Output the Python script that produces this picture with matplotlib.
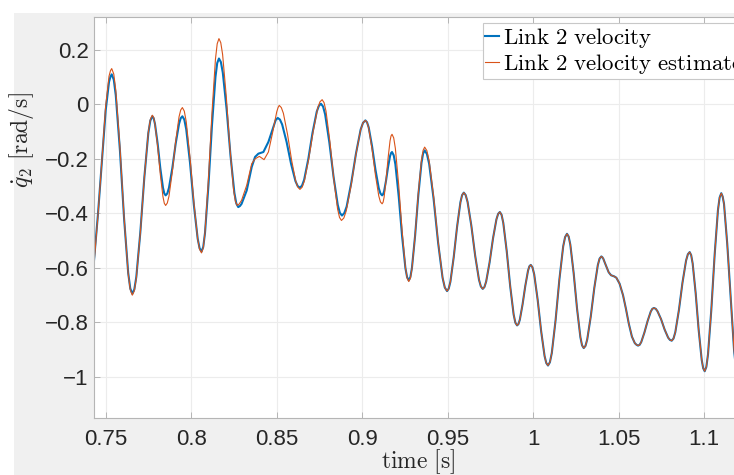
import numpy as np
import matplotlib
matplotlib.use('Agg')
import matplotlib.pyplot as plt
from matplotlib.patches import Rectangle

plt.rcParams['mathtext.fontset'] = 'cm'
plt.rcParams['font.family'] = ['Liberation Sans', 'DejaVu Sans']

# (time [s], value [rad/s])
# measured link-2 velocity, first part (where the estimate differs)
vel_head = [
    (0.74298, -0.573), (0.74532, -0.401), (0.74766, -0.206), (0.74982, -0.022), (0.75176, 0.082), (0.7526, 0.101), (0.75334, 0.110),
    (0.75455, 0.090), (0.75572, 0.033), (0.75814, -0.168), (0.76056, -0.417), (0.76298, -0.618), (0.76419, -0.675), (0.7654, -0.695),
    (0.76657, -0.679), (0.76774, -0.633), (0.77008, -0.470), (0.77242, -0.269), (0.77476, -0.106), (0.77593, -0.060), (0.7771, -0.044),
    (0.77788, -0.051), (0.77866, -0.072), (0.78022, -0.144), (0.78178, -0.234), (0.78334, -0.306), (0.78412, -0.327), (0.7849, -0.334),
    (0.78588, -0.327), (0.78686, -0.306), (0.78882, -0.234), (0.79078, -0.144), (0.79274, -0.072), (0.79372, -0.051), (0.7947, -0.044),
    (0.79582, -0.056), (0.79694, -0.091), (0.79918, -0.215), (0.80142, -0.369), (0.80366, -0.493), (0.80478, -0.528), (0.8059, -0.540),
    (0.80692, -0.523), (0.80794, -0.472), (0.80998, -0.295), (0.81202, -0.077), (0.81406, 0.100), (0.81508, 0.151), (0.8161, 0.168),
    (0.81723, 0.155), (0.81836, 0.116), (0.82062, -0.020), (0.82288, -0.189), (0.82514, -0.325), (0.82627, -0.364), (0.8274, -0.377),
    (0.8284, -0.373), (0.82935, -0.365), (0.83235, -0.316), (0.83528, -0.230), (0.83723, -0.193), (0.83918, -0.181), (0.84211, -0.175),
    (0.84504, -0.138), (0.84796, -0.083), (0.8493, -0.058), (0.8505, -0.050),
    (0.8518, -0.056), (0.8531, -0.074), (0.8557, -0.138), (0.8583, -0.218), (0.8609, -0.282), (0.8622, -0.300), (0.8635, -0.306),
    (0.86473, -0.298), (0.86596, -0.277), (0.86842, -0.200), (0.87088, -0.104), (0.87334, -0.027), (0.87457, -0.006), (0.8758, 0.002),
    (0.87703, -0.008), (0.87826, -0.037), (0.88072, -0.140), (0.88318, -0.266), (0.88564, -0.369), (0.88687, -0.398), (0.8881, -0.408),
    (0.88947, -0.399), (0.89084, -0.375), (0.89358, -0.287), (0.89632, -0.180), (0.89906, -0.092), (0.90043, -0.068), (0.9018, -0.059),
    (0.90278, -0.066), (0.90376, -0.085), (0.90572, -0.154), (0.90768, -0.239), (0.90964, -0.308), (0.91062, -0.327), (0.9116, -0.334),
    (0.91218, -0.330), (0.91276, -0.319), (0.91392, -0.279), (0.91508, -0.230), (0.91624, -0.190), (0.91682, -0.179), (0.9174, -0.175),
    (0.91838, -0.187), (0.91936, -0.220), (0.92132, -0.338), (0.92328, -0.483), (0.92524, -0.601), (0.92622, -0.634), (0.9272, -0.646),
    (0.92813, -0.634), (0.92906, -0.600), (0.93092, -0.481), (0.93278, -0.334), (0.93464, -0.215), (0.93557, -0.181), (0.9365, -0.169),
    (0.93781, -0.182), (0.93912, -0.218), (0.94174, -0.347), (0.94436, -0.507), (0.94698, -0.636), (0.94829, -0.672),
]

# velocity estimate, first part
est_head = [
    (0.74298, -0.585), (0.74532, -0.405), (0.74766, -0.200), (0.74982, -0.005), (0.75176, 0.103), (0.7526, 0.123), (0.75334, 0.131),
    (0.75455, 0.111), (0.75572, 0.052), (0.75814, -0.156), (0.76056, -0.413), (0.76298, -0.621), (0.76419, -0.680), (0.7654, -0.700),
    (0.76657, -0.684), (0.76774, -0.637), (0.77008, -0.472), (0.77242, -0.268), (0.77476, -0.103), (0.77593, -0.056), (0.7771, -0.040),
    (0.77788, -0.048), (0.77866, -0.072), (0.78022, -0.154), (0.78178, -0.257), (0.78334, -0.339), (0.78412, -0.363), (0.7849, -0.371),
    (0.78588, -0.362), (0.78686, -0.337), (0.78882, -0.247), (0.79078, -0.136), (0.79274, -0.046), (0.79372, -0.021), (0.7947, -0.012),
    (0.79582, -0.025), (0.79694, -0.063), (0.79918, -0.196), (0.80142, -0.361), (0.80366, -0.494), (0.80478, -0.532), (0.8059, -0.545),
    (0.80692, -0.526), (0.80794, -0.470), (0.80998, -0.273), (0.81202, -0.031), (0.81406, 0.166), (0.81508, 0.222), (0.8161, 0.241),
    (0.81717, 0.226), (0.81824, 0.183), (0.82038, 0.030), (0.82252, -0.160), (0.82466, -0.313), (0.82573, -0.356), (0.8268, -0.371),
    (0.8279, -0.366), (0.82935, -0.352), (0.83235, -0.297), (0.83528, -0.218), (0.83723, -0.200), (0.83977, -0.191), (0.8425, -0.203),
    (0.84504, -0.175), (0.84757, -0.102), (0.84991, -0.028), (0.8507, -0.012), (0.8514, -0.004),
    (0.85261, -0.012), (0.85382, -0.033), (0.85624, -0.110), (0.85866, -0.206), (0.86108, -0.283), (0.86229, -0.304), (0.8635, -0.312),
    (0.8648, -0.304), (0.8661, -0.281), (0.8687, -0.198), (0.8713, -0.097), (0.8739, -0.014), (0.8752, 0.009), (0.8765, 0.017),
    (0.87763, 0.006), (0.87876, -0.025), (0.88102, -0.136), (0.88328, -0.273), (0.88554, -0.384), (0.88667, -0.415), (0.8878, -0.426),
    (0.8892, -0.417), (0.8906, -0.391), (0.8934, -0.299), (0.8962, -0.186), (0.8990, -0.094), (0.9004, -0.068), (0.9018, -0.059),
    (0.90278, -0.066), (0.90376, -0.088), (0.90572, -0.165), (0.90768, -0.259), (0.90964, -0.336), (0.91062, -0.358), (0.9116, -0.365),
    (0.91218, -0.359), (0.91276, -0.341), (0.91392, -0.277), (0.91508, -0.198), (0.91624, -0.134), (0.91682, -0.116), (0.9174, -0.110),
    (0.91838, -0.123), (0.91936, -0.162), (0.92132, -0.297), (0.92328, -0.463), (0.92524, -0.598), (0.92622, -0.637), (0.9272, -0.650),
    (0.92813, -0.638), (0.92906, -0.603), (0.93092, -0.480), (0.93278, -0.327), (0.93464, -0.204), (0.93557, -0.169), (0.9365, -0.157),
    (0.93781, -0.170), (0.93912, -0.207), (0.94174, -0.339), (0.94436, -0.503), (0.94698, -0.635), (0.94829, -0.672),
]

# after ~0.95 s both curves coincide
tail = [
    (0.9496, -0.685),
    (0.95058, -0.676), (0.95156, -0.651), (0.95352, -0.560), (0.95548, -0.449), (0.95744, -0.359), (0.95842, -0.333), (0.9594, -0.324),
    (0.96051, -0.333), (0.96162, -0.358), (0.96384, -0.446), (0.96606, -0.555), (0.96828, -0.643), (0.96939, -0.668), (0.9705, -0.677),
    (0.9715, -0.670), (0.9725, -0.650), (0.9745, -0.580), (0.9765, -0.492), (0.9785, -0.422), (0.9795, -0.402), (0.9805, -0.395),
    (0.98151, -0.405), (0.98252, -0.435), (0.98454, -0.539), (0.98656, -0.667), (0.98858, -0.771), (0.98959, -0.801), (0.9906, -0.811),
    (0.9914, -0.806), (0.9922, -0.790), (0.9938, -0.734), (0.9954, -0.666), (0.9970, -0.610), (0.9978, -0.594), (0.9986, -0.589),
    (0.99961, -0.598), (1.00062, -0.624), (1.00264, -0.717), (1.00466, -0.831), (1.00668, -0.923), (1.00769, -0.949), (1.0087, -0.958),
    (1.00981, -0.946), (1.01092, -0.912), (1.01314, -0.791), (1.01536, -0.642), (1.01758, -0.521), (1.01869, -0.487), (1.0198, -0.475),
    (1.02078, -0.485), (1.02176, -0.515), (1.02372, -0.620), (1.02568, -0.749), (1.02764, -0.854), (1.02862, -0.884), (1.0296, -0.894),
    (1.03063, -0.886), (1.03166, -0.862), (1.03372, -0.778), (1.03578, -0.674), (1.03784, -0.590), (1.03887, -0.566), (1.0399, -0.558),
    (1.0405, -0.561), (1.0411, -0.567), (1.0422, -0.585), (1.0442, -0.616), (1.0456, -0.627), (1.0474, -0.631), (1.0487, -0.636),
    (1.0506, -0.658), (1.0526, -0.700), (1.0543, -0.750), (1.0560, -0.805), (1.0578, -0.852), (1.0595, -0.876), (1.0605, -0.882), (1.0614, -0.885),
    (1.06233, -0.882), (1.06326, -0.872), (1.06512, -0.837), (1.06698, -0.795), (1.06884, -0.760), (1.06977, -0.750), (1.0707, -0.747),
    (1.07174, -0.750), (1.07278, -0.759), (1.07486, -0.788), (1.07694, -0.826), (1.07902, -0.856), (1.08006, -0.864), (1.0811, -0.867),
    (1.08215, -0.859), (1.0832, -0.836), (1.0853, -0.755), (1.0874, -0.654), (1.0895, -0.573), (1.09055, -0.550), (1.0916, -0.542),
    (1.09248, -0.553), (1.09336, -0.584), (1.09512, -0.693), (1.09688, -0.828), (1.09864, -0.937), (1.09952, -0.968), (1.1004, -0.979),
    (1.10137, -0.963), (1.10234, -0.917), (1.10428, -0.753), (1.10622, -0.552), (1.10816, -0.388), (1.10913, -0.342), (1.1101, -0.326),
    (1.1109, -0.338), (1.1117, -0.365), (1.1136, -0.512), (1.1156, -0.707), (1.1176, -0.903), (1.1196, -1.020), (1.1215, -1.060),
]

vel_pts = np.array(vel_head + tail)
est_pts = np.array(est_head + tail)

xticks = [0.75, 0.8, 0.85, 0.9, 0.95, 1.0, 1.05, 1.1]
xticklabels = ['0.75', '0.8', '0.85', '0.9', '0.95', '1', '1.05', '1.1']
yticks = [-1.0, -0.8, -0.6, -0.4, -0.2, 0.0, 0.2]
yticklabels = ['\u22121', '\u22120.8', '\u22120.6', '\u22120.4', '\u22120.2', '0', '0.2']

W, H = 734, 475
fig = plt.figure(figsize=(W / 100, H / 100), dpi=100)
fig.patch.set_facecolor('white')
fig.add_artist(Rectangle((14 / W, 0), 1, 1 - 13.3 / H, transform=fig.transFigure,
                         facecolor='#f0f0f0', edgecolor='none', zorder=-10))

# axes runs a little past the right edge of the picture, as in the original crop
ax = fig.add_axes([94.3 / W, 1 - 418.3 / H, (751 - 94.3) / W, (418.3 - 17.3) / H])
ax.set_facecolor('white')

ax.plot(vel_pts[:, 0], vel_pts[:, 1], color='#0072BD', lw=1.5,
        label=r'$\mathrm{Link\ 2\ velocity}$')
ax.plot(est_pts[:, 0], est_pts[:, 1], color='#D95319', lw=0.8,
        label=r'$\mathrm{Link\ 2\ velocity\ estimate}$')

ax.set_xlim(0.74315, 1.12750)
ax.set_ylim(-1.1516, 0.3191)
ax.set_xticks(xticks)
ax.set_xticklabels(xticklabels)
ax.set_yticks(yticks)
ax.set_yticklabels(yticklabels)

ax.grid(True, color='#ececec', lw=0.8)
ax.set_axisbelow(True)
for s in ax.spines.values():
    s.set_color('#b5b5b5')
    s.set_linewidth(0.8)
ax.tick_params(direction='in', length=4.3, width=0.7, color='#b5b5b5',
               top=True, right=True, labelsize=16, labelcolor='#262626')
ax.tick_params(axis='x', pad=7.5)
ax.tick_params(axis='y', pad=4)

leg = ax.legend(loc='upper right', fontsize=16.5, handlelength=0.6, handletextpad=0.15,
                borderpad=0.12, labelspacing=0.1, borderaxespad=0.25,
                fancybox=False, framealpha=1, edgecolor='#c8c8c8')
leg.get_frame().set_linewidth(0.8)

fig.text(22 / W, 1 - 140 / H, r'$\dot{q}_2\ \mathrm{[rad/s]}$', rotation=90,
         ha='center', va='center', fontsize=17, color='#262626')
fig.text(418.5 / W, 1 - 462 / H, r'$\mathrm{time\ [s]}$',
         ha='center', va='center', fontsize=17, color='#262626')

fig.savefig('out.png', dpi=100)
